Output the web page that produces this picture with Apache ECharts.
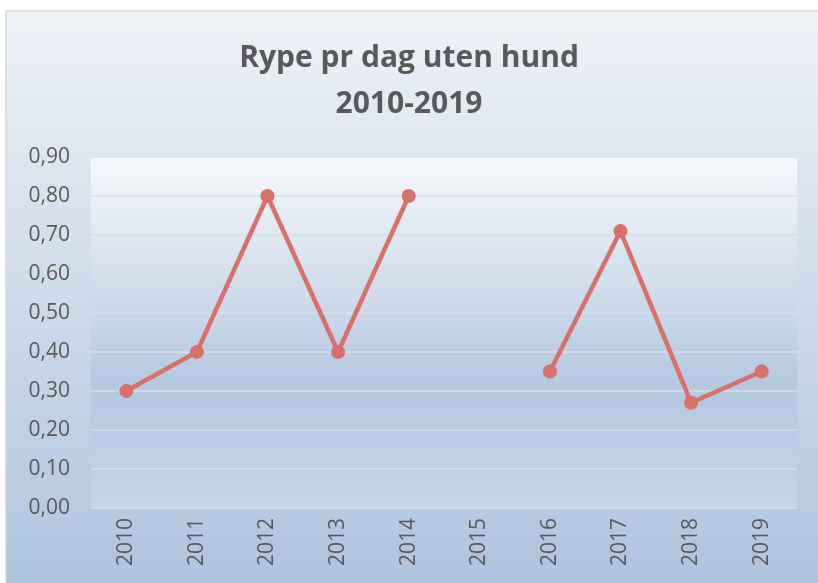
<!DOCTYPE html>
<html>
<head>
<meta charset="utf-8">
<script src="https://cdn.jsdelivr.net/npm/echarts@6/dist/echarts.min.js"></script>
<style>
  html, body { margin: 0; padding: 0; background: #fff; }
  #main { width: 818px; height: 583px; }
</style>
</head>
<body>
<div id="main"></div>
<script>
// data
var years = ['2010', '2011', '2012', '2013', '2014', '2015', '2016', '2017', '2018', '2019'];
var rypePrDag = [0.30, 0.40, 0.80, 0.40, 0.80, null, 0.35, 0.71, 0.27, 0.35];
var yTicks = [0, 0.1, 0.2, 0.3, 0.4, 0.5, 0.6, 0.7, 0.8, 0.9];

var chart = echarts.init(document.getElementById('main'));

var option = {
  backgroundColor: '#fff',
  graphic: [{
    type: 'rect',
    z: -10,
    shape: { x: 6, y: 11, width: 830, height: 600 },
    style: {
      fill: new echarts.graphic.LinearGradient(0, 0, 0, 1, [
        { offset: 0, color: '#eef2f7' },
        { offset: 1, color: '#abc2dc' }
      ]),
      stroke: '#d4d7dc',
      lineWidth: 1.5
    }
  }],
  title: {
    text: 'Rype pr dag uten hund\n2010-2019',
    left: 'center',
    top: 30,
    textStyle: {
      fontFamily: 'Open Sans',
      fontWeight: 'bold',
      fontSize: 30,
      lineHeight: 46,
      color: '#595959'
    }
  },
  grid: {
    left: 91,
    right: 21,
    top: 157,
    bottom: 75,
    show: true,
    borderWidth: 0,
    backgroundColor: new echarts.graphic.LinearGradient(0, 0, 0, 1, [
      { offset: 0, color: '#f6f8fb' },
      { offset: 0.65, color: '#b4c8e0' },
      { offset: 1, color: '#c5d5ea' }
    ])
  },
  xAxis: {
    type: 'category',
    data: years,
    boundaryGap: true,
    axisLine: { show: false },
    axisTick: { show: false },
    axisLabel: {
      rotate: 90,
      margin: 10,
      fontFamily: 'Open Sans',
      fontSize: 21,
      color: '#595959'
    }
  },
  yAxis: {
    type: 'value',
    min: yTicks[0],
    max: yTicks[yTicks.length - 1],
    interval: 0.1,
    axisLine: { show: false },
    axisTick: { show: false },
    splitLine: { lineStyle: { color: '#d8dee8', width: 1.5 } },
    axisLabel: {
      margin: 21,
      fontFamily: 'Open Sans',
      fontSize: 21,
      color: '#595959',
      formatter: function (v) {
        return v.toFixed(2).replace('.', ',');
      }
    }
  },
  series: [{
    type: 'line',
    data: rypePrDag,
    connectNulls: false,
    symbol: 'circle',
    symbolSize: 14,
    lineStyle: { color: '#d8706b', width: 4.5 },
    itemStyle: { color: '#d8706b' }
  }]
};

chart.setOption(option);
</script>
</body>
</html>
